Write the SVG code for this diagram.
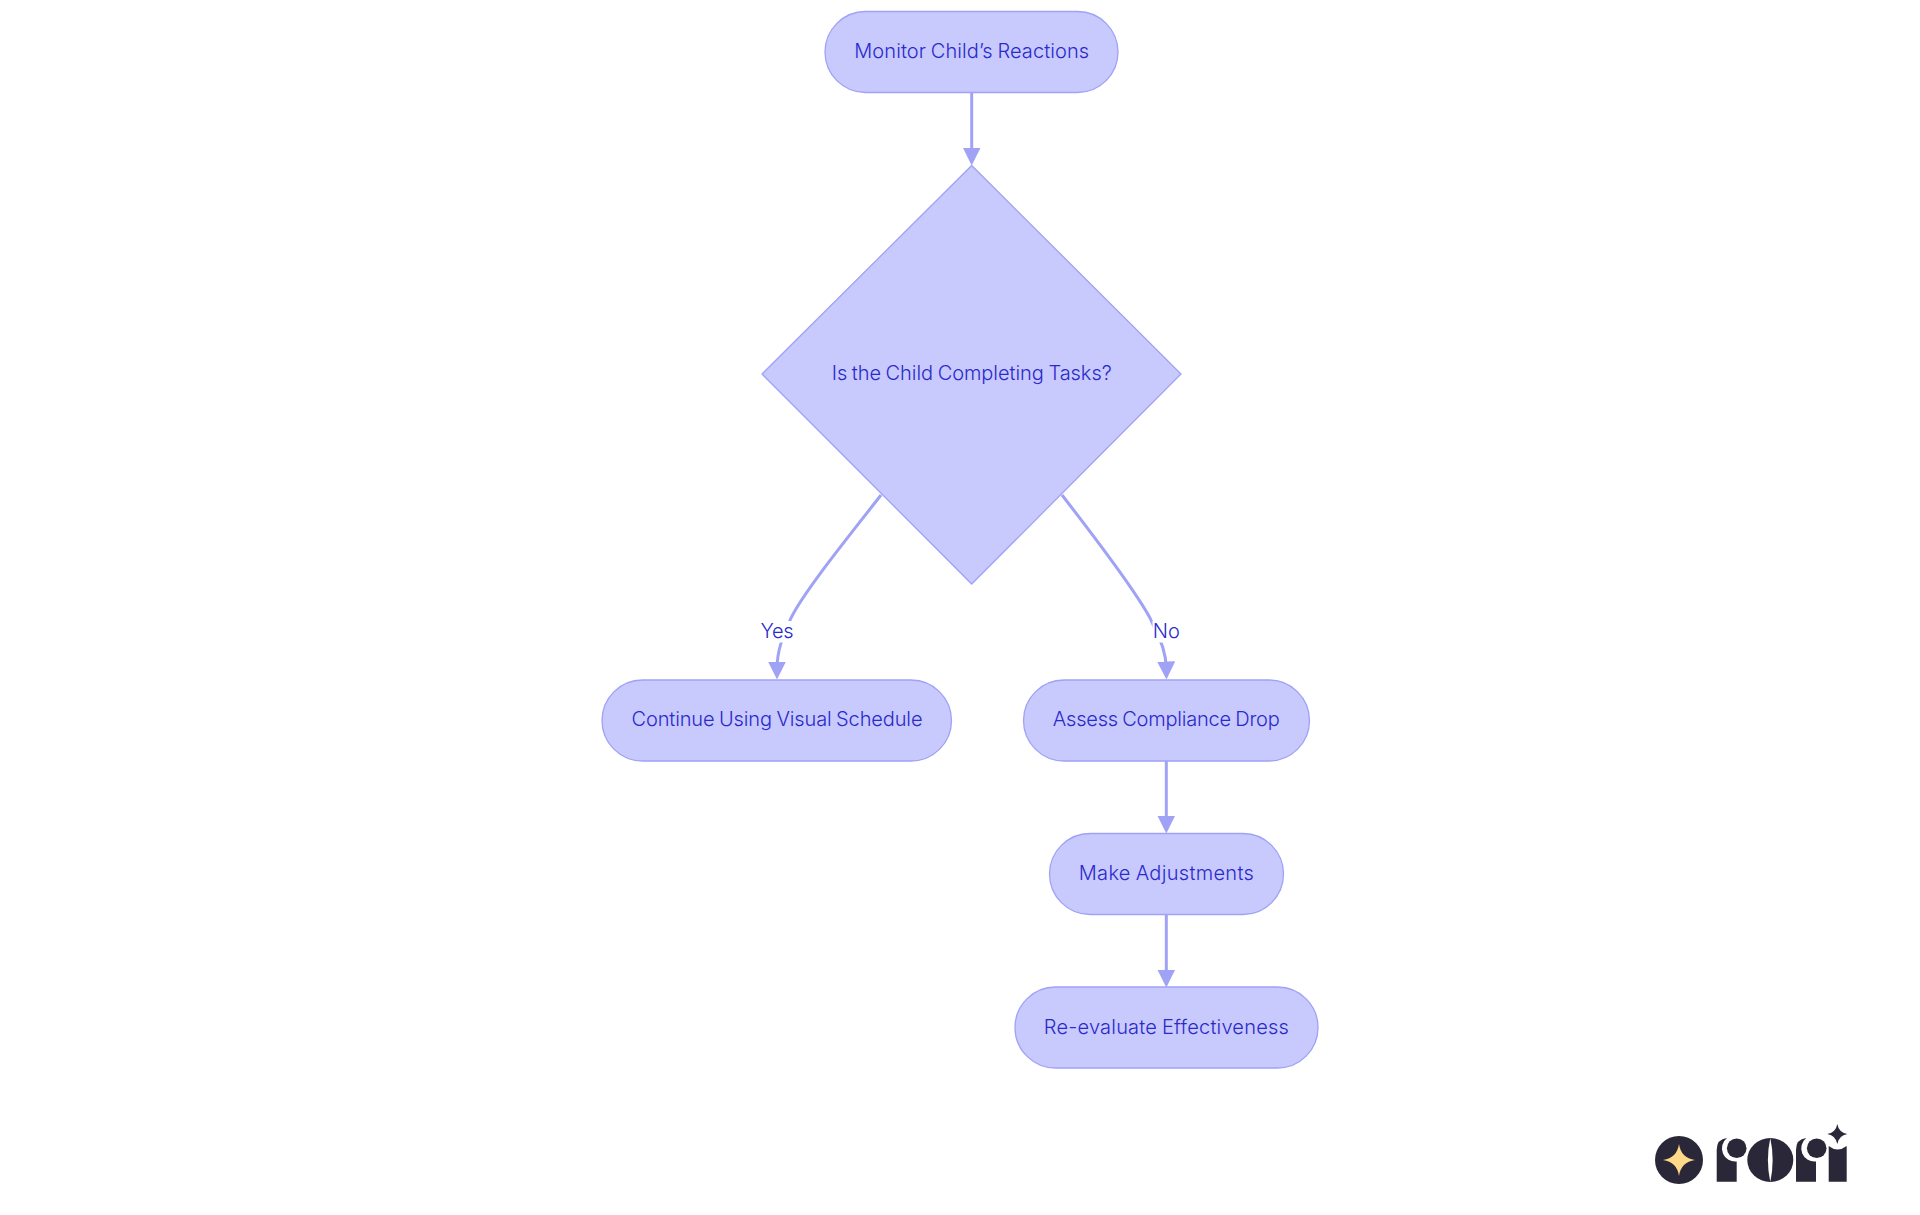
<svg xmlns="http://www.w3.org/2000/svg" width="1920" height="1215" viewBox="0 0 1920 1215">
<style>
.n{fill:#c8c9fd;stroke:#9fa2f5;stroke-width:1.3}
.t{font-family:"Inter","Noto Sans",sans-serif;font-size:20px;fill:#2a2acc;text-anchor:middle;dominant-baseline:central;font-weight:300;word-spacing:-1px}
.e{fill:none;stroke:#9fa2f5;stroke-width:3}
.k{fill:#2a2838}
</style>
<defs>
<marker id="a" markerUnits="userSpaceOnUse" markerWidth="18" markerHeight="18" refX="7.5" refY="9" orient="auto"><path d="M0 0L18 9L0 18Z" fill="#9fa2f5"/></marker>
</defs>
<rect width="1920" height="1215" fill="#fff"/>
<g id="connectors">
<path class="e" marker-end="url(#a)" d="M971.7 93V155"/>
<path class="e" marker-end="url(#a)" d="M881 495C850 535 805 590 791 618C783 636 777 650 777 669"/>
<path class="e" marker-end="url(#a)" d="M1062 495C1093 535 1135 590 1150 618C1160 640 1166 650 1166.3 669"/>
<path class="e" marker-end="url(#a)" d="M1166.3 761V823"/>
<path class="e" marker-end="url(#a)" d="M1166.3 915V977"/>
<rect x="760" y="621" width="34" height="21.5" fill="#fff"/>
<rect x="1152.5" y="621" width="27.5" height="21.5" fill="#fff"/>
<text class="t" x="777" y="631" textLength="33">Yes</text>
<text class="t" x="1166.3" y="631" textLength="27">No</text>
</g>
<g id="n1"><rect class="n" x="825" y="11.5" width="293" height="81" rx="40.5"/><text class="t" x="971.7" y="51" textLength="235">Monitor Child’s Reactions</text></g>
<g id="n2"><path class="n" d="M971.7 165.5L1181 374L971.7 584L762 374Z"/><text class="t" x="971.7" y="373" textLength="280">Is the Child Completing Tasks?</text></g>
<g id="n3"><rect class="n" x="602" y="680" width="349.5" height="81" rx="40.5"/><text class="t" x="777" y="718.5" textLength="291">Continue Using Visual Schedule</text></g>
<g id="n4"><rect class="n" x="1023.5" y="680" width="286" height="81" rx="40.5"/><text class="t" x="1166.3" y="718.5" textLength="227">Assess Compliance Drop</text></g>
<g id="n5"><rect class="n" x="1049.5" y="833.5" width="234" height="81" rx="40.5"/><text class="t" x="1166.3" y="872.5" textLength="175">Make Adjustments</text></g>
<g id="n6"><rect class="n" x="1015" y="987" width="303" height="81" rx="40.5"/><text class="t" x="1166.3" y="1026.5" textLength="245">Re-evaluate Effectiveness</text></g>
<g id="logo">
<circle class="k" cx="1679" cy="1160" r="24"/>
<path fill="#ffd98a" d="M1679 1144Q1681 1158 1695 1160Q1681 1162 1679 1176Q1677 1162 1663 1160Q1677 1158 1679 1144Z"/>
<path class="k" d="M1716.7 1181.7V1150Q1716.7 1139 1727 1138A13.2 13.2 0 0 0 1736.7 1161.5V1181.7Z"/>
<circle class="k" cx="1736.7" cy="1148.3" r="9.8"/>
<ellipse class="k" cx="1770.3" cy="1160" rx="23" ry="22"/>
<path fill="#fff" d="M1770.3 1138Q1765.5 1160 1770.3 1182Q1775 1160 1770.3 1138Z"/>
<path class="k" d="M1796 1181.7V1150Q1796 1139 1806.3 1138A13.2 13.2 0 0 0 1816 1161.5V1181.7Z"/>
<circle class="k" cx="1816.7" cy="1148.3" r="9.8"/>
<path class="k" d="M1828.7 1181.7V1146Q1837.5 1153 1846.7 1146V1181.7Z"/>
<path class="k" d="M1837.3 1124Q1838.8 1132.5 1847.3 1134Q1838.8 1135.5 1837.3 1144Q1835.8 1135.5 1827.3 1134Q1835.8 1132.5 1837.3 1124Z"/>
</g>
</svg>
